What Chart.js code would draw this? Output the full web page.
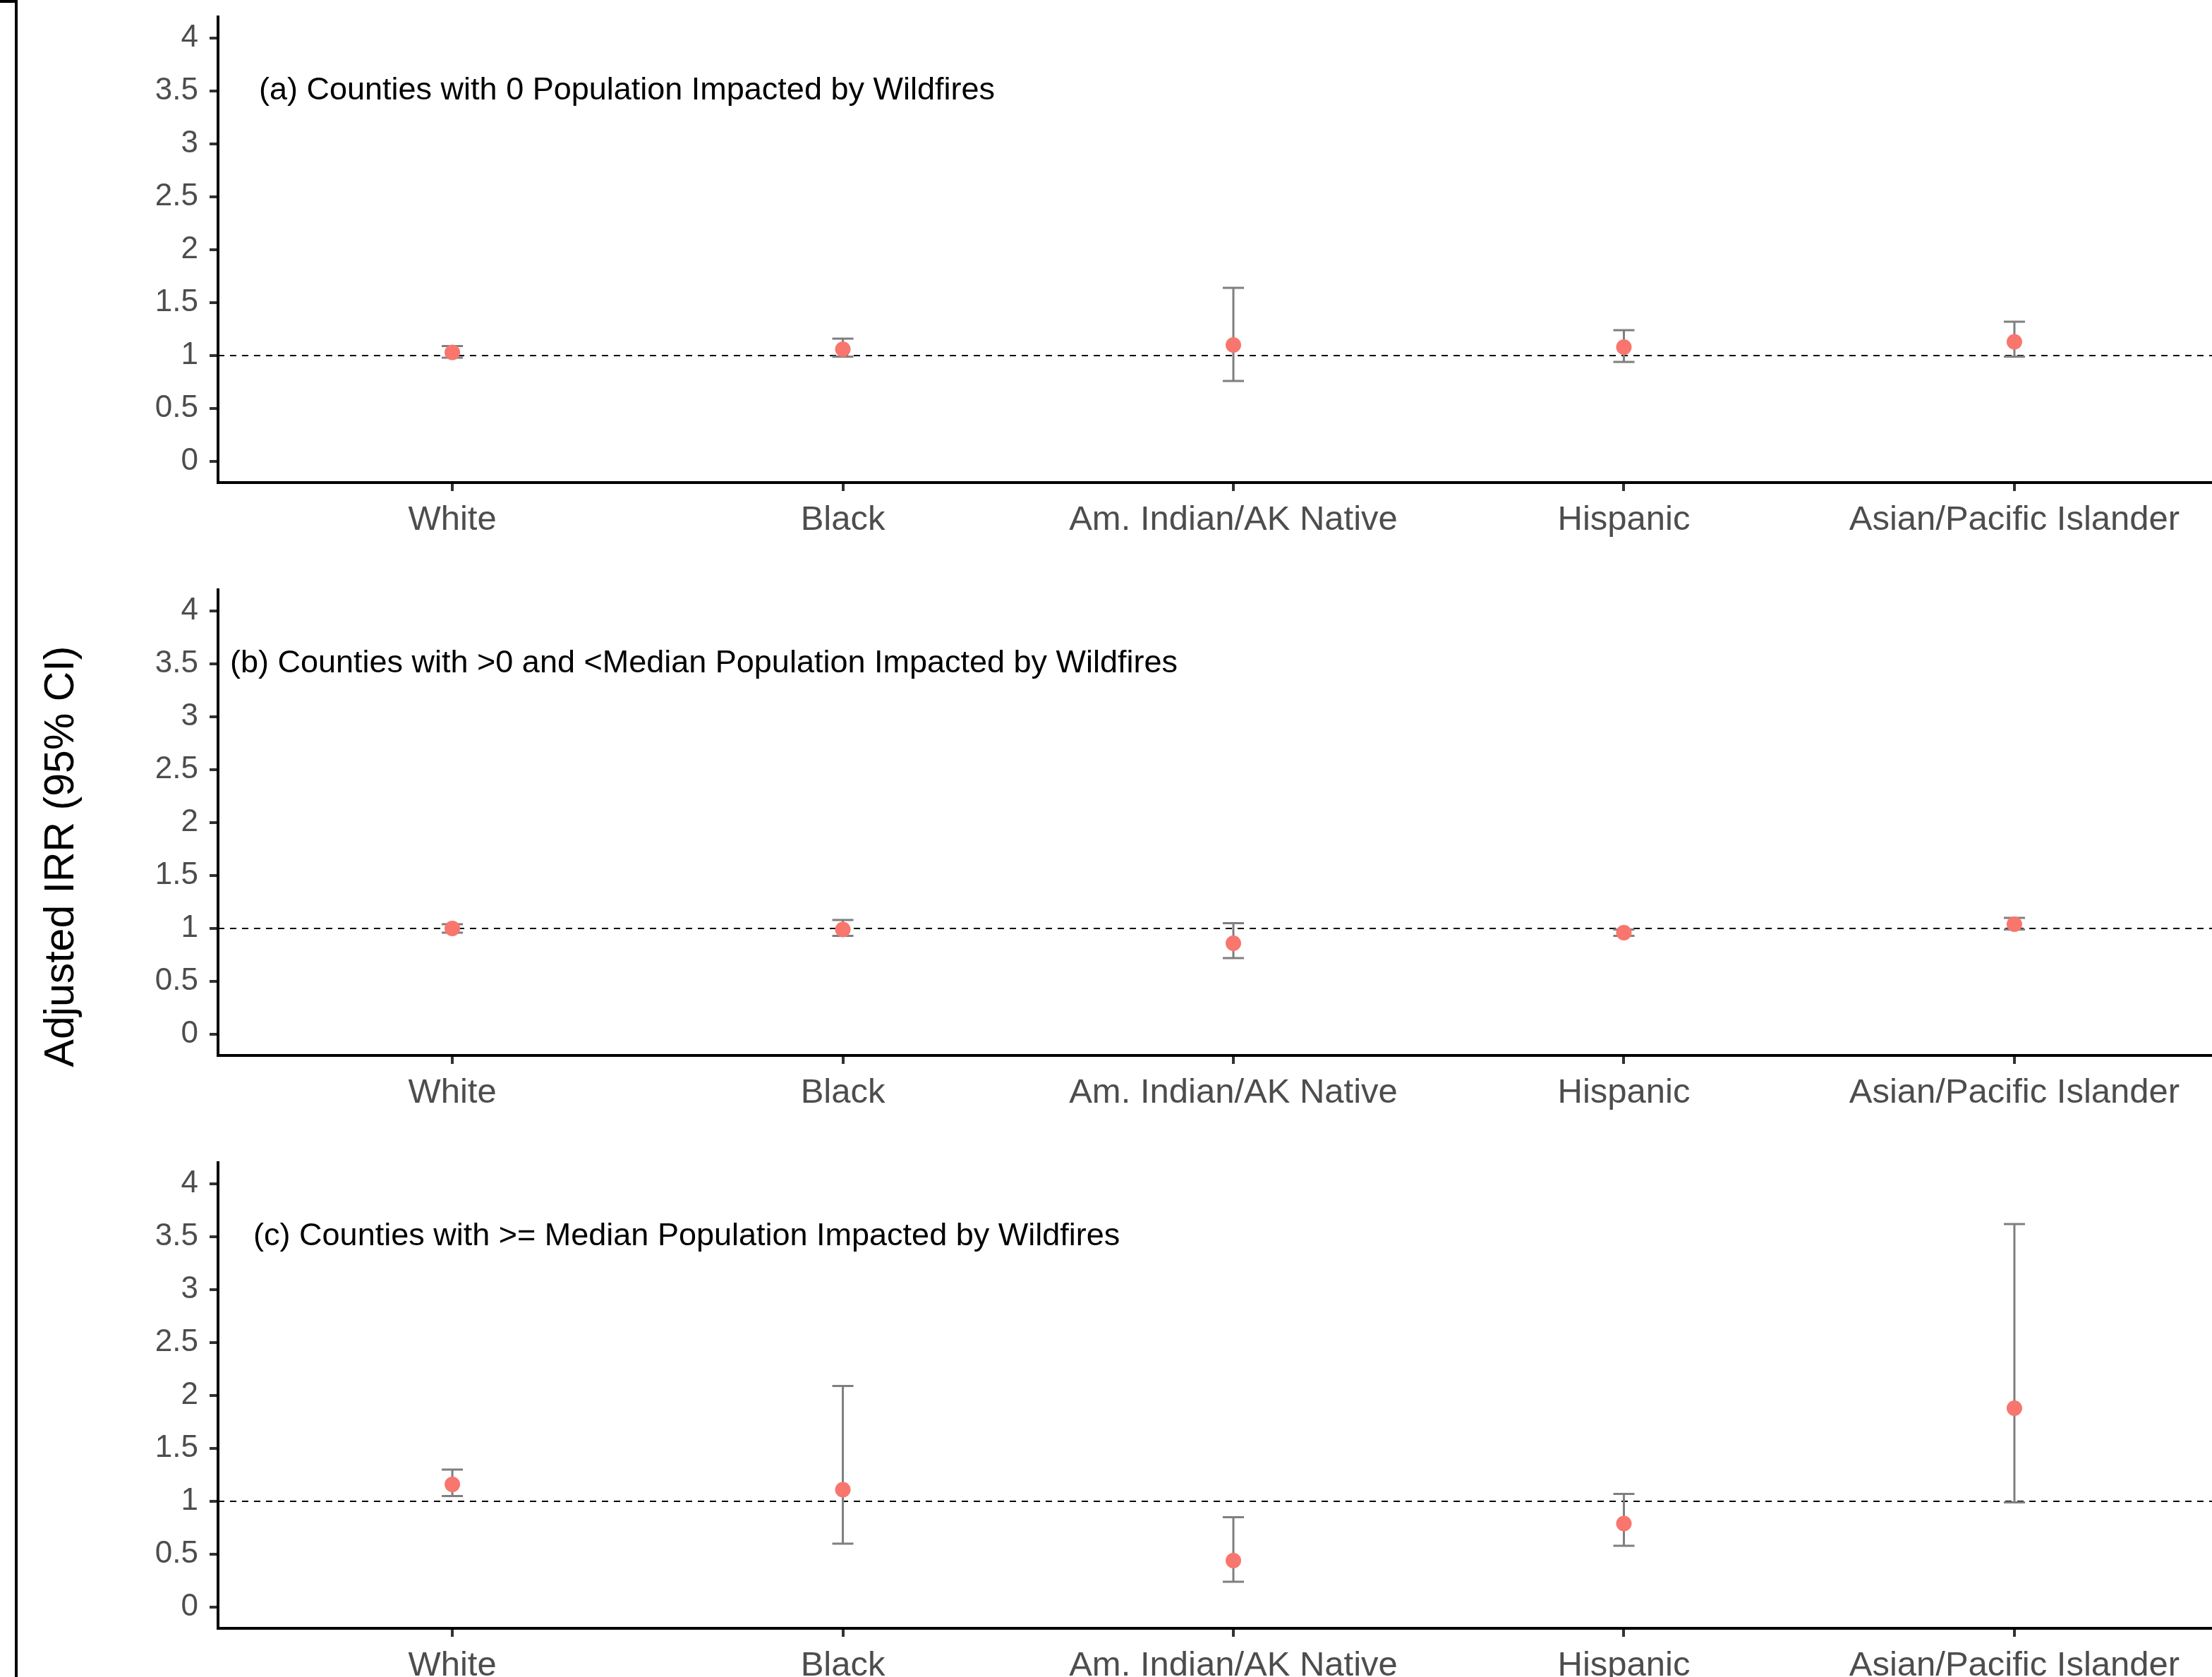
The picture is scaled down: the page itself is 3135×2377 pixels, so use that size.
<!DOCTYPE html>
<html><head><meta charset="utf-8">
<script src="https://cdn.jsdelivr.net/npm/chart.js@4.4.0/dist/chart.umd.min.js"></script>
<style>
html,body{margin:0;padding:0;background:#fff;overflow:hidden;width:3135px;height:2377px;}
canvas.panel{position:absolute;left:0;}
#frameV{position:absolute;left:21px;top:0;width:4px;height:2377px;background:#000;}
#frameH{position:absolute;left:0;top:0;width:25px;height:4px;background:#000;}
#ytitle{position:absolute;left:84px;top:1214px;transform:translate(-50%,-50%) rotate(-90deg);font:59px "Liberation Sans",Arial,sans-serif;color:#000;white-space:nowrap;line-height:1;}
</style></head>
<body>
<div id="frameV"></div>
<div id="frameH"></div>
<div id="ytitle">Adjusted IRR (95% CI)</div>
<canvas id="c0" class="panel" style="top:0px"></canvas>
<canvas id="c1" class="panel" style="top:812px"></canvas>
<canvas id="c2" class="panel" style="top:1624px"></canvas>
<script>
// ---- data ----
const categories = ["White", "Black", "Am. Indian/AK Native", "Hispanic", "Asian/Pacific Islander"];
const panelTitles = [
  "(a) Counties with 0 Population Impacted by Wildfires",
  "(b) Counties with >0 and <Median Population Impacted by Wildfires",
  "(c) Counties with >= Median Population Impacted by Wildfires"
];
const titleX = [0.447, 0.644, 0.60];
const titleY = [3.5, 3.5, 3.5];

const irrA  = [1.03, 1.06, 1.10, 1.08, 1.13];
const lowA  = [0.98, 0.99, 0.76, 0.94, 0.99];
const highA = [1.09, 1.16, 1.64, 1.24, 1.32];

const irrB  = [1.00, 0.99, 0.86, 0.96, 1.04];
const lowB  = [0.96, 0.93, 0.72, 0.93, 0.99];
const highB = [1.04, 1.08, 1.05, 0.99, 1.10];

const irrC  = [1.16, 1.11, 0.44, 0.79, 1.88];
const lowC  = [1.05, 0.60, 0.24, 0.58, 0.99];
const highC = [1.30, 2.09, 0.85, 1.07, 3.62];

const yTicks = [0, 0.5, 1, 1.5, 2, 2.5, 3, 3.5, 4];
const refLine = 1;

// ---- drawing ----
const FONT = '"Liberation Sans", Arial, sans-serif';

const errPlugin = {
  id: 'err',
  beforeDatasetsDraw(chart, args, opts) {
    const ctx = chart.ctx, x = chart.scales.x, y = chart.scales.y, ca = chart.chartArea;
    ctx.save();
    ctx.strokeStyle = '#000'; ctx.lineWidth = 2; ctx.setLineDash([9, 8]);
    const yr = y.getPixelForValue(opts.ref);
    ctx.beginPath(); ctx.moveTo(ca.left, yr); ctx.lineTo(ca.right, yr); ctx.stroke();
    ctx.setLineDash([]);
    ctx.strokeStyle = '#7f7f7f'; ctx.lineWidth = 3;
    opts.low.forEach((lo, i) => {
      const px = x.getPixelForValue(i);
      const pl = y.getPixelForValue(lo), ph = y.getPixelForValue(opts.high[i]);
      ctx.beginPath();
      ctx.moveTo(px, pl); ctx.lineTo(px, ph);
      ctx.moveTo(px - 15, pl); ctx.lineTo(px + 15, pl);
      ctx.moveTo(px - 15, ph); ctx.lineTo(px + 15, ph);
      ctx.stroke();
    });
    ctx.fillStyle = '#000'; ctx.font = '45px ' + FONT;
    ctx.textAlign = 'center'; ctx.textBaseline = 'middle';
    ctx.fillText(opts.title, x.getPixelForValue(opts.tx), y.getPixelForValue(opts.ty));
    ctx.restore();
  }
};

function zeroPad(s) { s.paddingTop = 0; s.paddingBottom = 0; s.paddingLeft = 0; s.paddingRight = 0; }

function makeChart(id, irr, low, high, idx, h) {
  const canvas = document.getElementById(id);
  canvas.width = 3135; canvas.height = h;
  canvas.style.width = '3135px'; canvas.style.height = h + 'px';
  return new Chart(canvas, {
    type: 'scatter',
    data: { datasets: [{
      data: irr.map((v, i) => ({ x: i, y: v })),
      pointRadius: 11, pointHoverRadius: 11,
      pointBackgroundColor: '#F8766D', pointBorderColor: '#F8766D', pointBorderWidth: 0
    }]},
    options: {
      responsive: false, animation: false, devicePixelRatio: 1,
      events: [],
      layout: { autoPadding: false, padding: { top: 24, left: 0, right: 0, bottom: 0 } },
      plugins: {
        legend: { display: false }, tooltip: { enabled: false },
        err: { low: low, high: high, ref: refLine, title: panelTitles[idx], tx: titleX[idx], ty: titleY[idx] }
      },
      scales: {
        x: {
          type: 'linear', position: 'bottom', min: -0.6, max: 4.506,
          afterBuildTicks(s) { s.ticks = categories.map((c, i) => ({ value: i })); },
          afterFit(s) { s.height = h - 684; zeroPad(s); },
          ticks: { callback: (v) => categories[v], font: { family: FONT, size: 49 }, color: '#4d4d4d',
                   padding: 12, maxRotation: 0, minRotation: 0, autoSkip: false },
          grid: { drawOnChartArea: false, drawTicks: true, tickLength: 12, color: '#333', lineWidth: 4 },
          border: { display: true, color: '#000', width: 4 }
        },
        y: {
          type: 'linear', min: -0.2, max: 4.2,
          afterBuildTicks(s) { s.ticks = yTicks.map(v => ({ value: v })); },
          afterFit(s) { s.width = 309; zeroPad(s); },
          ticks: { callback: (v) => String(v), font: { family: FONT, size: 44 }, color: '#4d4d4d', padding: 16 },
          grid: { drawOnChartArea: false, drawTicks: true, tickLength: 12, color: '#333', lineWidth: 4 },
          border: { display: true, color: '#000', width: 4 }
        }
      }
    },
    plugins: [errPlugin]
  });
}

makeChart('c0', irrA, lowA, highA, 0, 812);
makeChart('c1', irrB, lowB, highB, 1, 812);
makeChart('c2', irrC, lowC, highC, 2, 753);
</script>
</body></html>
